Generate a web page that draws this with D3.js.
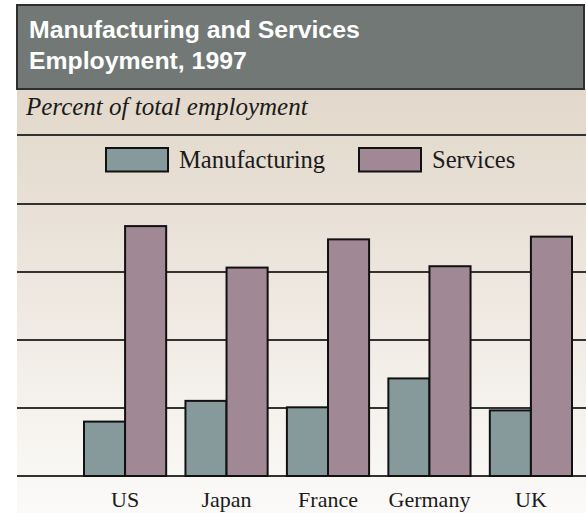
<!DOCTYPE html>
<html><head><meta charset="utf-8">
<script src="https://cdn.jsdelivr.net/npm/d3@7"></script>
<style>html,body{margin:0;padding:0;background:#fff;}svg{display:block;}</style>
</head><body>
<svg id="c" width="586" height="515"></svg>
<script>
const categories = ["US", "Japan", "France", "Germany", "UK"];
const seriesNames = ["Manufacturing", "Services"];
const manufacturing = [16.0, 22.1, 20.2, 28.7, 19.3];
const services = [73.5, 61.3, 69.6, 61.7, 70.4];
const gridTicks = [0, 20, 40, 60, 80];
const titleLines = ["Manufacturing and Services", "Employment, 1997"];
const subtitle = "Percent of total employment";

const colors = ["#879a9b", "#a08894"];
const svg = d3.select("#c");
const defs = svg.append("defs");
const grad = defs.append("linearGradient").attr("id","bg").attr("x1",0).attr("y1",0).attr("x2",0).attr("y2",1);
grad.append("stop").attr("offset","0%").attr("stop-color","#e2d8cb");
grad.append("stop").attr("offset","30%").attr("stop-color","#e9e1d7");
grad.append("stop").attr("offset","90%").attr("stop-color","#f9f7f4");
grad.append("stop").attr("offset","100%").attr("stop-color","#fbfaf9");

// panel
svg.append("rect").attr("x",17).attr("y",89).attr("width",569).attr("height",424).attr("fill","url(#bg)");
// title box
svg.append("rect").attr("x",17).attr("y",5).attr("width",567).attr("height",84)
  .attr("fill","#717875").attr("stroke","#2e2e2e").attr("stroke-width",2);
svg.append("g").selectAll("text").data(titleLines).join("text")
  .attr("x",29).attr("y",(d,i)=>38+i*31)
  .attr("font-family","'Liberation Sans', Arial, sans-serif").attr("font-weight","bold")
  .attr("font-size",24.8).attr("fill","#ffffff").text(d=>d);

svg.append("text").attr("x",26).attr("y",115)
  .attr("font-family","'Liberation Serif', 'Times New Roman', serif").attr("font-style","italic")
  .attr("font-size",25).attr("fill","#1a1a1a").text(subtitle);
svg.append("line").attr("x1",17).attr("x2",586).attr("y1",135).attr("y2",135)
  .attr("stroke","#333").attr("stroke-width",2);

// legend
const legendX = [106, 359];
const lg = svg.append("g").selectAll("g").data(seriesNames).join("g")
  .attr("transform",(d,i)=>`translate(${legendX[i]},148)`);
lg.append("rect").attr("width",62).attr("height",23.5).attr("fill",(d,i)=>colors[i])
  .attr("stroke","#111").attr("stroke-width",2);
lg.append("text").attr("x",73).attr("y",19.5)
  .attr("font-family","'Liberation Serif', 'Times New Roman', serif")
  .attr("font-size",24.6).attr("fill","#1a1a1a").text(d=>d);

// scales
const y = d3.scaleLinear().domain([0,80]).range([476,204]);
const x = d3.scaleBand().domain(categories).range([84,572]).paddingInner(0.19).paddingOuter(0);
const xs = d3.scaleBand().domain(seriesNames).range([0,x.bandwidth()]);

// gridlines
svg.append("g").selectAll("line").data(gridTicks).join("line")
  .attr("x1",17).attr("x2",586).attr("y1",d=>y(d)).attr("y2",d=>y(d))
  .attr("stroke","#333").attr("stroke-width",2);

// bars
const data = categories.map((c,i)=>({cat:c, vals:[manufacturing[i], services[i]]}));
const groups = svg.append("g").selectAll("g").data(data).join("g")
  .attr("transform",d=>`translate(${x(d.cat)},0)`);
groups.selectAll("rect").data(d=>d.vals.map((v,j)=>({v, s:seriesNames[j], j}))).join("rect")
  .attr("x",d=>xs(d.s)).attr("width",xs.bandwidth())
  .attr("y",d=>y(d.v)).attr("height",d=>y(0)-y(d.v))
  .attr("fill",d=>colors[d.j]).attr("stroke","#111").attr("stroke-width",2);

// x axis labels
const xAxis = d3.axisBottom(x).tickSize(0).tickPadding(0);
const ax = svg.append("g").attr("transform","translate(0,476)").call(xAxis);
ax.select(".domain").remove();
ax.selectAll("text").attr("dy",null).attr("y",30.5)
  .attr("font-family","'Liberation Serif', 'Times New Roman', serif")
  .attr("font-size",22).attr("fill","#1a1a1a");
</script>
</body></html>
